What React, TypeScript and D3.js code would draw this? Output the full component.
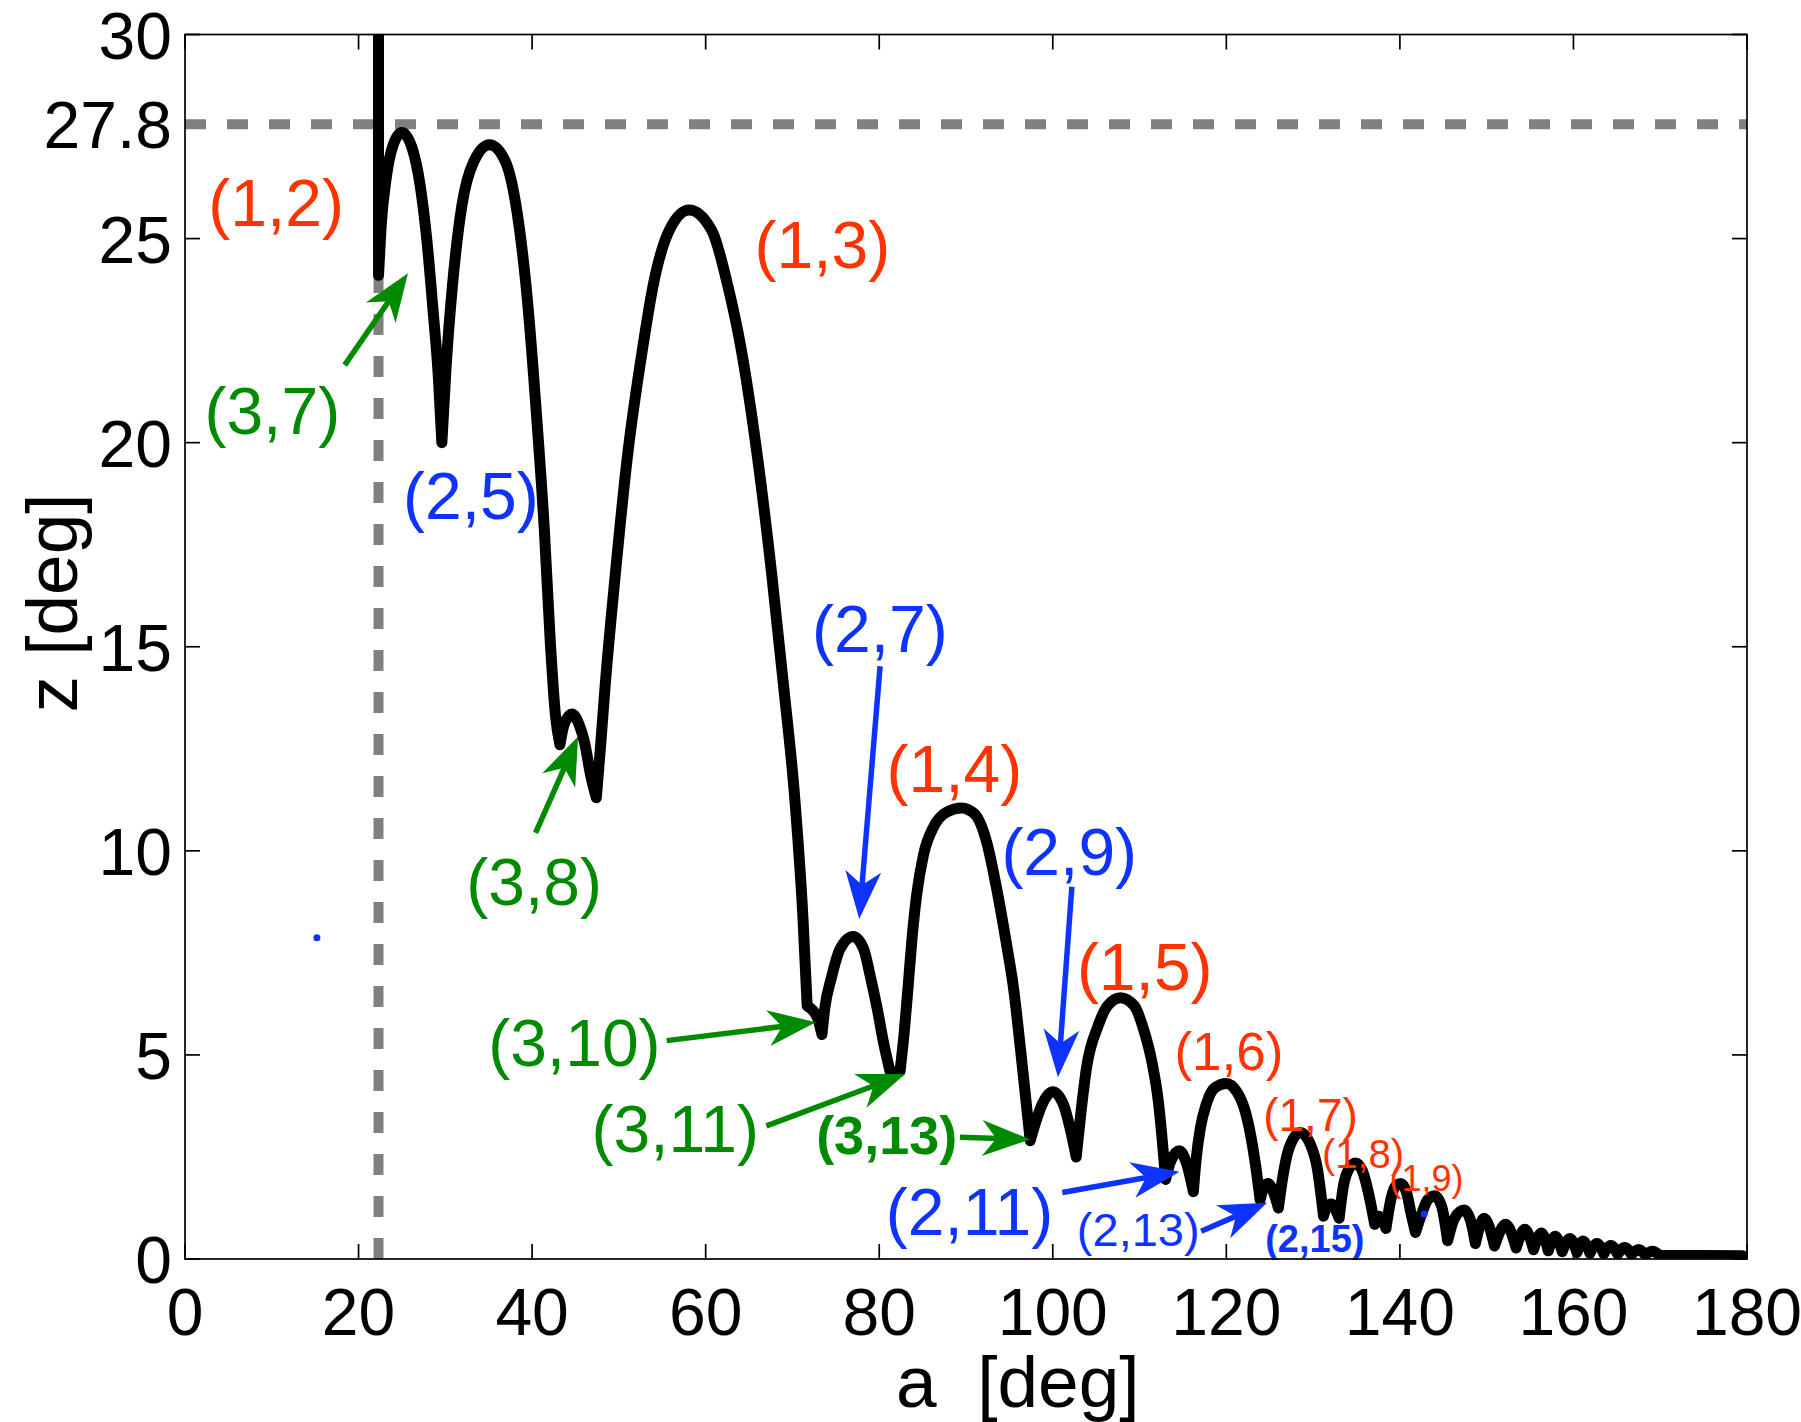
import React from 'react';
import * as d3 from 'd3';

// ---------------- data ----------------
const xTicks = [0, 20, 40, 60, 80, 100, 120, 140, 160, 180];
const yTicks = [0, 5, 10, 15, 20, 25, 30];
const zLimit = 27.8; // horizontal dashed bound
const aLimit = 22.3; // vertical dashed bound
const aLimitTop = 24.1;

// z(a) curve, split into arches between cusps; each arch is smooth
const arches: [number, number][][] = [
  [[22.3, 30], [22.3, 24.1]],
  [[22.3, 24.1], [22.6, 25.3], [23.2, 26.5], [24.0, 27.3], [25.0, 27.6], [26.2, 27.2], [27.1, 26.3], [27.9, 24.9], [28.6, 23.2], [29.2, 21.6], [29.6, 20.0]],
  [[29.6, 20.0], [30.1, 21.9], [30.8, 23.8], [31.9, 25.8], [33.3, 26.9], [35.1, 27.3], [36.9, 26.9], [38.3, 25.6], [39.5, 23.4], [40.5, 20.7], [41.4, 17.9], [42.1, 15.1], [42.7, 13.3], [43.2, 12.6]],
  [[43.2, 12.6], [43.7, 13.1], [44.6, 13.35], [45.4, 13.1], [46.1, 12.6], [46.7, 11.9], [47.4, 11.3]],
  [[47.4, 11.3], [47.9, 12.6], [48.4, 14.0], [49.6, 16.8], [50.95, 19.6], [52.8, 22.4], [53.9, 23.8], [55.8, 25.2], [58.1, 25.7], [60.7, 25.2], [62.6, 23.8], [64.0, 22.4], [66.0, 19.6], [67.6, 16.8], [69.0, 14.0], [70.3, 11.2], [71.2, 8.4], [71.7, 6.2]],
  [[71.7, 6.2], [72.3, 6.1], [72.9, 5.9], [73.4, 5.5]],
  [[73.4, 5.5], [73.7, 6.1], [74.5, 6.9], [75.5, 7.6], [77.0, 7.9], [78.2, 7.6], [79.0, 6.9], [79.8, 6.1], [80.5, 5.3], [81.3, 4.55]],
  [[81.3, 4.55], [82.4, 4.6]],
  [[82.4, 4.6], [82.9, 5.6], [83.3, 6.6], [83.8, 7.9], [84.3, 8.9], [85.1, 9.9], [86.3, 10.6], [87.8, 10.95], [89.5, 11.05], [91.0, 10.9], [92.4, 10.2], [93.6, 9.0], [94.6, 7.8], [95.5, 6.6], [96.3, 5.1], [96.9, 3.9], [97.4, 2.9]],
  [[97.4, 2.9], [98.1, 3.4], [98.8, 3.8], [100.0, 4.1], [101.2, 3.8], [102.0, 3.2], [102.7, 2.5]],
  [[102.7, 2.5], [103.2, 3.5], [103.9, 4.7], [105.2, 5.7], [106.3, 6.2], [107.8, 6.4], [109.4, 6.2], [110.5, 5.6], [111.4, 4.85], [112.2, 3.8], [112.7, 2.7], [113.0, 1.95]],
  [[113.0, 1.95], [113.6, 2.4], [114.6, 2.65], [115.4, 2.35], [116.2, 1.65]],
  [[116.2, 1.65], [116.5, 2.4], [117.0, 3.2], [117.7, 3.8], [118.7, 4.2], [120.0, 4.3], [121.2, 4.1], [122.2, 3.6], [123.0, 2.8], [123.5, 2.1], [123.9, 1.45]],
  [[123.9, 1.45], [124.3, 1.75], [124.8, 1.85], [125.4, 1.65], [126.0, 1.25]],
  [[126.0, 1.25], [126.5, 2.0], [127.2, 2.7], [128.5, 3.1], [129.7, 2.8], [130.5, 2.2], [131.2, 1.05]],
  [[131.2, 1.05], [131.6, 1.3], [132.1, 1.35], [132.6, 1.2], [133.0, 1.0]],
  [[133.0, 1.0], [133.5, 1.8], [134.1, 2.2], [134.9, 2.35], [135.7, 2.15], [136.4, 1.6], [137.1, 0.85]],
  [[137.1, 0.85], [137.6, 1.05], [138.4, 0.75]],
  [[138.4, 0.75], [138.9, 1.4], [139.4, 1.75], [140.1, 1.85], [140.8, 1.6], [141.3, 1.1], [141.8, 0.65]],
  [[141.8, 0.65], [142.5, 1.1], [143.2, 1.45], [144.0, 1.55], [144.8, 1.3], [145.5, 0.45]],
  [[145.5, 0.45], [146.3, 1.0], [147.4, 1.2], [148.2, 0.9], [148.7, 0.38]],
  [[148.7, 0.38], [149.7, 1.0], [150.9, 0.32]],
  [[150.9, 0.32], [152.2, 0.85], [153.4, 0.27]],
  [[153.4, 0.27], [154.4, 0.73], [155.4, 0.23]],
  [[155.4, 0.23], [156.3, 0.64], [157.1, 0.2]],
  [[157.1, 0.2], [157.9, 0.56], [158.7, 0.18]],
  [[158.7, 0.18], [159.6, 0.5], [160.4, 0.16]],
  [[160.4, 0.16], [161.1, 0.44], [161.9, 0.14]],
  [[161.9, 0.14], [162.7, 0.38], [163.5, 0.13]],
  [[163.5, 0.13], [164.3, 0.33], [165.1, 0.12]],
  [[165.1, 0.12], [165.9, 0.28], [166.7, 0.11]],
  [[166.7, 0.11], [167.5, 0.23], [168.3, 0.1]],
  [[168.3, 0.1], [169.1, 0.19], [169.9, 0.09]],
  [[169.9, 0.09], [179.5, 0.08]],
];

// resonance labels (m, n) anchored at (a, z): text centre / baseline
const resonances: [number, number, number, number][] = [
  [1, 2, 10.5, 25.3],
  [1, 3, 73.45, 24.29],
  [3, 7, 10.06, 20.21],
  [2, 5, 32.95, 18.13],
  [2, 7, 80.07, 14.86],
  [1, 4, 88.67, 11.43],
  [3, 8, 40.23, 8.67],
  [2, 9, 101.9, 9.4],
  [1, 5, 110.6, 6.59],
  [3, 10, 44.87, 4.73],
  [3, 11, 56.5, 2.62],
  [3, 13, 80.86, 2.58],
  [1, 6, 120.3, 4.62],
  [2, 11, 90.4, 0.6],
  [1, 7, 129.7, 3.14],
  [1, 8, 135.75, 2.24],
  [1, 9, 143.07, 1.66],
  [2, 13, 109.85, 0.31],
  [2, 15, 130.2, 0.17],
];

// pointer arrows: m, from (a, z) to (a, z)
const pointers: [number, number, number, number, number][] = [
  [3, 18.4, 21.9, 25.7, 24.15],
  [3, 40.4, 10.44, 45.3, 12.8],
  [2, 80.1, 14.52, 77.7, 8.33],
  [2, 102.2, 9.12, 100.6, 4.45],
  [3, 55.5, 5.35, 72.7, 5.8],
  [3, 67.0, 3.26, 83.0, 4.53],
  [3, 89.3, 2.98, 97.4, 2.93],
  [2, 101.1, 1.63, 114.6, 2.14],
  [2, 117.1, 0.68, 124.7, 1.38],
];

// stray points
const strayPoints: [number, number][] = [
  [15.2, 7.87],
  [142.8, 1.1],
];

// ---------------- styling ----------------
const W = 1801;
const H = 1422;
const PLOT = { left: 185, right: 1747, top: 34.5, bottom: 1259 };
const FONT = '"Liberation Sans", Arial, Helvetica, sans-serif';
const modeColor: Record<number, string> = { 1: '#ff3300', 2: '#0f33ff', 3: '#008a00' };
const labelStyle: Record<string, { size: number; bold?: boolean }> = {
  '1,6': { size: 53 },
  '1,7': { size: 46 },
  '1,8': { size: 40 },
  '1,9': { size: 36 },
  '2,13': { size: 47 },
  '2,15': { size: 38, bold: true },
  '3,13': { size: 54, bold: true },
};

const x = d3.scaleLinear().domain([0, 180]).range([PLOT.left, PLOT.right]);
const y = d3.scaleLinear().domain([0, 30]).range([PLOT.bottom, PLOT.top]);

function archPath(pts: [number, number][]): string {
  const flat = pts.length <= 2 || pts[0][0] === pts[pts.length - 1][0];
  const gen = d3
    .line<[number, number]>()
    .x((d) => x(d[0]))
    .y((d) => y(d[1]))
    .curve(flat ? d3.curveLinear : d3.curveMonotoneX);
  return gen(pts) || '';
}

function Arrow({ m, a0, z0, a1, z1 }: { m: number; a0: number; z0: number; a1: number; z1: number }) {
  const color = modeColor[m];
  const tx = x(a1);
  const ty = y(z1);
  const fx = x(a0);
  const fy = y(z0);
  const len = Math.hypot(tx - fx, ty - fy);
  const ux = (tx - fx) / len;
  const uy = (ty - fy) / len;
  const nx = -uy;
  const ny = ux;
  const L = 48;
  const hw = 18;
  const notch = 34;
  const head = [
    [tx, ty],
    [tx - ux * L + nx * hw, ty - uy * L + ny * hw],
    [tx - ux * notch, ty - uy * notch],
    [tx - ux * L - nx * hw, ty - uy * L - ny * hw],
  ];
  return (
    <g>
      <line x1={fx} y1={fy} x2={tx - ux * (notch - 2)} y2={ty - uy * (notch - 2)} stroke={color} strokeWidth={5.5} />
      <polygon points={head.map((p) => p.join(',')).join(' ')} fill={color} />
    </g>
  );
}

export default function App() {
  const curveD = arches.map(archPath).join(' ');
  return (
    <div style={{ position: 'absolute', left: 0, top: 0 }}>
      <svg width={W} height={H} viewBox={`0 0 ${W} ${H}`} style={{ display: 'block', background: '#fff' }}>
        <defs>
          <clipPath id="plot-clip">
            <rect x={PLOT.left} y={PLOT.top} width={PLOT.right - PLOT.left} height={PLOT.bottom - PLOT.top} />
          </clipPath>
        </defs>

        {/* dashed bounds */}
        <line
          x1={PLOT.left}
          x2={PLOT.right}
          y1={y(zLimit)}
          y2={y(zLimit)}
          stroke="#808080"
          strokeWidth={10}
          strokeDasharray="21 21"
        />
        <line
          x1={x(aLimit)}
          x2={x(aLimit)}
          y1={y(0)}
          y2={y(aLimitTop)}
          stroke="#808080"
          strokeWidth={10}
          strokeDasharray="21 21"
        />

        {/* main curve */}
        <path
          d={curveD}
          fill="none"
          stroke="#000"
          strokeWidth={11}
          strokeLinejoin="round"
          strokeLinecap="round"
          clipPath="url(#plot-clip)"
        />

        {strayPoints.map(([a, z], i) => (
          <circle key={i} cx={x(a)} cy={y(z)} r={3.5} fill="#0f33ff" />
        ))}

        {pointers.map(([m, a0, z0, a1, z1], i) => (
          <Arrow key={i} m={m} a0={a0} z0={z0} a1={a1} z1={z1} />
        ))}

        {resonances.map(([m, n, a, z]) => {
          const key = `${m},${n}`;
          const st = labelStyle[key] || { size: 66 };
          return (
            <text
              key={key}
              x={x(a)}
              y={y(z)}
              textAnchor="middle"
              fill={modeColor[m]}
              fontFamily={FONT}
              fontSize={st.size}
              fontWeight={st.bold ? 'bold' : 'normal'}
            >
              {`(${key})`}
            </text>
          );
        })}

        {/* axes box */}
        <rect
          x={PLOT.left}
          y={PLOT.top}
          width={PLOT.right - PLOT.left}
          height={PLOT.bottom - PLOT.top}
          fill="none"
          stroke="#000"
          strokeWidth={1.7}
        />
        {xTicks.map((t) => (
          <g key={`xt${t}`}>
            <line x1={x(t)} x2={x(t)} y1={PLOT.bottom} y2={PLOT.bottom - 15} stroke="#000" strokeWidth={1.7} />
            <line x1={x(t)} x2={x(t)} y1={PLOT.top} y2={PLOT.top + 15} stroke="#000" strokeWidth={1.7} />
            <text x={x(t)} y={1335} textAnchor="middle" fontFamily={FONT} fontSize={66} fill="#000">
              {t}
            </text>
          </g>
        ))}
        {yTicks.map((t) => (
          <g key={`yt${t}`}>
            <line x1={PLOT.left} x2={PLOT.left + 15} y1={y(t)} y2={y(t)} stroke="#000" strokeWidth={1.7} />
            <line x1={PLOT.right} x2={PLOT.right - 15} y1={y(t)} y2={y(t)} stroke="#000" strokeWidth={1.7} />
            <text x={172} y={y(t) + 24} textAnchor="end" fontFamily={FONT} fontSize={66} fill="#000">
              {t}
            </text>
          </g>
        ))}
        <text x={172} y={y(zLimit) + 24} textAnchor="end" fontFamily={FONT} fontSize={66} fill="#000">
          {zLimit}
        </text>

        {/* axis titles */}
        <text
          x={896}
          y={1407}
          fontFamily={FONT}
          fontSize={73}
          fill="#000"
          xmlSpace="preserve"
          style={{ whiteSpace: 'pre' }}
        >
          {'a  [deg]'}
        </text>
        <text
          transform={`translate(77, 603) rotate(-90)`}
          textAnchor="middle"
          fontFamily={FONT}
          fontSize={73}
          fill="#000"
        >
          z [deg]
        </text>
      </svg>
    </div>
  );
}
